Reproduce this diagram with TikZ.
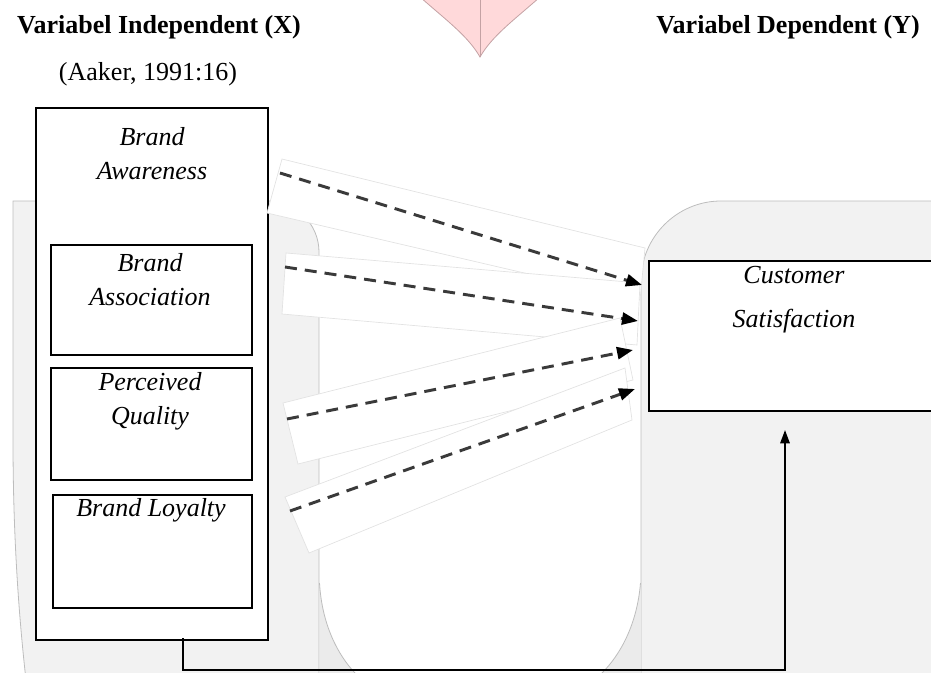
\documentclass[tikz,border=0pt]{standalone}
\usepackage{fontspec}
\setmainfont{Liberation Serif}
\usetikzlibrary{arrows.meta}
\definecolor{bggray}{HTML}{F2F2F2}
\definecolor{bgedge}{HTML}{BDBDBD}
\definecolor{cornergray}{HTML}{EBEBEB}
\definecolor{pinkfill}{HTML}{FFD9DA}
\definecolor{pinkedge}{HTML}{C4A2A4}
\definecolor{dashcol}{HTML}{3A3A3A}
\definecolor{bandedge}{HTML}{E2E2E2}
\begin{document}
\begin{tikzpicture}[x=0.75pt,y=-0.75pt,
  bgshape/.style={fill=bggray,draw=bgedge,line width=0.6pt},
  band/.style={fill=white,draw=bandedge,line width=0.5pt},
  box/.style={draw=black,line width=1.5pt,fill=white,inner sep=0pt},
  dasharrow/.style={draw=dashcol,line width=2.2pt,dash pattern=on 9pt off 6pt,
    -{Triangle[length=12pt,width=9pt,color=black]}},
  link/.style={draw=black,line width=1.5pt},
  lbl/.style={font=\fontsize{19.5}{25.5}\selectfont\itshape,align=center,inner sep=0pt},
  ttl/.style={font=\fontsize{19.5}{23}\selectfont\bfseries,inner sep=0pt},
  src/.style={font=\fontsize{19.5}{23}\selectfont,inner sep=0pt}
]
\useasboundingbox (0,0) rectangle (931,673);
% background shapes
\path[bgshape] (13,201) -- (268,201) .. controls (296,201) and (319,224) .. (319,252)
  -- (319,680) -- (26,680) .. controls (17,600) and (13,520) .. (13,440) -- cycle;
\path[bgshape] (940,201) -- (721,201) .. controls (677,201) and (641,237) .. (641,281)
  -- (641,680) -- (940,680) -- cycle;
\fill[cornergray] (319.5,583) rectangle (640.5,673);
\fill[white] (319.5,583) .. controls (322,625) and (338,655) .. (355,673) -- (602,673)
  .. controls (620,655) and (637,625) .. (640.5,583) -- cycle;
\draw[bgedge,line width=0.6pt] (319.5,583) .. controls (322,625) and (338,655) .. (355,673);
\draw[bgedge,line width=0.6pt] (640.5,583) .. controls (637,625) and (620,655) .. (602,673);
% pink shape at top
\path[fill=pinkfill,draw=pinkedge,line width=0.6pt] (420,-3) .. controls (446,20) and (468,36) .. (480,57)
  .. controls (492,36) and (514,20) .. (540,-3) -- cycle;
\draw[pinkedge,line width=0.6pt] (480,-3) -- (480,57);
% titles
\node[ttl] (tx) at (159,27) {Variabel Independent (X)};
\node[ttl] (ty) at (788,27) {Variabel Dependent (Y)};
\node[src] (aak) at (148,74) {(Aaker, 1991:16)};
% left boxes
\node[box,anchor=north west,minimum width=174pt,minimum height=399pt] (outer) at (35,107) {};
\node[lbl] (aw) at (152,154) {Brand\\Awareness};
\node[box,anchor=north west,minimum width=150.75pt,minimum height=82.5pt] (ba) at (50,244) {};
\node[lbl] (bat) at (150,280) {Brand\\Association};
\node[box,anchor=north west,minimum width=150.75pt,minimum height=84pt] (pq) at (50,367) {};
\node[lbl] (pqt) at (150,401) {Perceived\\Quality};
\node[box,anchor=north west,minimum width=149.25pt,minimum height=84.75pt] (bl) at (52,494) {};
\node[lbl] (blt) at (151,510) {Brand Loyalty};
% right box
\node[box,anchor=north west,minimum width=218pt,minimum height=112.5pt] (cs) at (648,260) {};
\node[lbl] (cst) at (794,300) {Customer\\[7.5pt]Satisfaction};
% bands under arrows
\path[band] (282,159) -- (645,248) -- (640,300) -- (267,213) -- cycle;
\path[band] (286,253) -- (640,283) -- (637,345) -- (282,314) -- cycle;
\path[band] (283,403) -- (620,318) -- (633,380) -- (298,464) -- cycle;
\path[band] (285,497) -- (625,368) -- (632,420) -- (309,553) -- cycle;
% arrow end points
\coordinate (s1) at (280,173); \coordinate (e1) at (642,285);
\coordinate (s2) at (285,267); \coordinate (e2) at (638,321);
\coordinate (s3) at (287,419); \coordinate (e3) at (633,350);
\coordinate (s4) at (290,511); \coordinate (e4) at (635,389);
\draw[dasharrow] (s1) -- (e1);
\draw[dasharrow] (s2) -- (e2);
\draw[dasharrow] (s3) -- (e3);
\draw[dasharrow] (s4) -- (e4);
% feedback connector
\coordinate (fs) at (183,638);
\coordinate (fc) at (183,670);
\coordinate (fe) at (785,430);
\draw[link,-{Triangle[length=10pt,width=7pt]}] (fs) -- (fc) -| (fe);
\end{tikzpicture}
\end{document}
